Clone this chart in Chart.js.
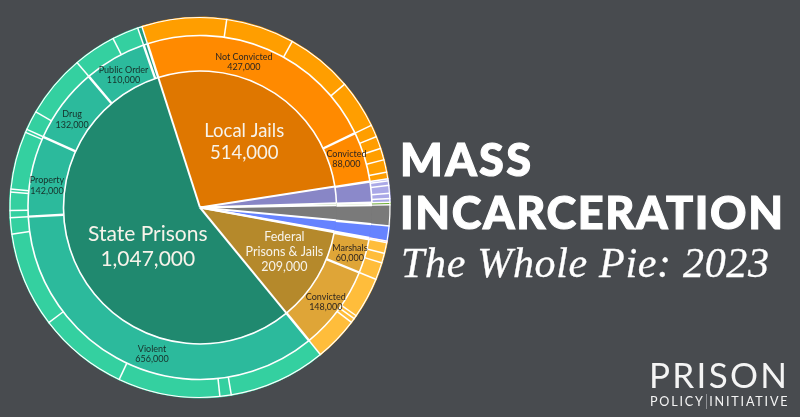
<!DOCTYPE html>
<html><head><meta charset="utf-8">
<script src="https://cdn.jsdelivr.net/npm/chart.js@4"></script>
<style>
html,body{margin:0;padding:0;background:#484b4f;width:800px;height:417px;overflow:hidden;}
#wrap{position:relative;width:800px;height:417px;}
canvas{position:absolute;left:0;top:0;}
.t{position:absolute;color:#fff;white-space:nowrap;margin:0;padding:0;}
#t1,#t2{font-family:Lato,'Open Sans',sans-serif;font-weight:900;font-size:45px;line-height:45px;-webkit-text-stroke:1.1px #fff;}
#t1{left:400px;top:136.8px;}
#t2{left:400px;top:190.1px;}
#t3{font-family:'Liberation Serif',serif;font-style:italic;font-size:42px;line-height:42px;left:401px;top:241.5px;-webkit-text-stroke:0.3px #fff;}
#l1{font-family:Lato,sans-serif;font-weight:400;font-size:35px;line-height:35px;left:649px;top:357.3px;color:#f4f4f4;}
#l2{font-family:Lato,sans-serif;font-weight:400;font-size:12.6px;line-height:12.6px;left:650px;top:396.1px;color:#f4f4f4;}
.vl{position:absolute;width:1px;background:#8e9094;}
</style></head>
<body><div id="wrap"><canvas id="c" width="800" height="417"></canvas>
<div class="t" id="t1">MASS</div>
<div class="t" id="t2">INCARCERATION</div>
<div class="t" id="t3">The Whole Pie: 2023</div>
<div class="t" id="l1">PRISON</div>
<div class="t" id="l2">POLICY INITIATIVE</div>
<div class="vl" style="left:706px;top:394px;height:15px;"></div>
</div>
<script>
// ---------- DATA ----------
// inner ring: where people are held
const facilityLabels = ['Local Jails','Youth','Military & other','Involuntary commitment','Immigration detention','Indian Country','Federal Prisons & Jails','State Prisons'];
const facilityValues = [514000, 37000, 4000, 33000, 24000, 2500, 209000, 1047000];
const facilityGroups = ['local','youth','mil','inv','imm','ind','fed','state'];

// middle ring: status / offense
const statusLabels = ['Not Convicted','Convicted','Youth','Military & other','Involuntary commitment','Immigration detention','Indian Country','Marshals','Convicted','Violent','Property','Drug','Public Order','Other'];
const statusValues = [427000, 88000, 37000, 4000, 33000, 24000, 2500, 60000, 148000, 656000, 142000, 132000, 110000, 7000];
const statusGroups = ['local','local','youth','mil','inv','imm','ind','fed','fed','state','state','state','state','other'];

// outer ring: detail
const detailLabels = [
 'Not convicted a','Not convicted b','Not convicted c','Not convicted d',
 'Convicted a','Convicted b','Convicted c','Convicted d','Convicted e',
 'Youth a','Youth b','Youth c','Youth d','Youth e',
 'Military & other','Involuntary commitment','Immigration detention','Indian Country',
 'Marshals a','Marshals b','Marshals c',
 'Federal convicted a','Federal convicted b','Federal convicted c','Federal convicted d',
 'Violent a','Violent b','Violent c','Violent d','Violent e','Violent f',
 'Property a','Property b','Property c','Property d','Property e',
 'Drug a','Drug b',
 'Public order a','Public order b',
 'Other'];
const detailValues = [
 134500,109000,106500,77000,
 19300,19800,18400,19800,10700,
 3100,7300,12500,8300,5800,
 4000,33000,24000,2500,
 17200,15500,27300,
 65000,5600,7200,70200,
 155000,18000,162000,143000,152000,26000,
 11000,29000,5000,92000,5000,
 31000,101000,
 68000,42000,
 7000];
const detailGroups = [
 'local','local','local','local',
 'local','local','local','local','local',
 'youth','youth','youth','youth','youth',
 'mil','inv','imm','ind',
 'fed','fed','fed',
 'fed','fed','fed','fed',
 'state','state','state','state','state','state',
 'state','state','state','state','state',
 'state','state',
 'state','state',
 'other'];

// ---------- STYLE ----------
const COLORS = { // [inner, middle, outer]
  local:['#df7700','#ff8a00','#ff9e00'],
  youth:['#8886c6','#8b89ca','#aaa8e7'],
  mil:['#65a928','#65a928','#65a928'],
  inv:['#7a7a7a','#7a7a7a','#7a7a7a'],
  imm:['#6683ff','#6683ff','#6683ff'],
  ind:['#ff7f8f','#ff7f8f','#ff7f8f'],
  fed:['#b5892b','#dfa537','#ffbd3b'],
  state:['#20896f','#2cba9c','#34d0a0'],
  other:['#20896f','#1f9c80','#1f9c80']
};
const MERGED = ['mil','inv','imm','ind'];
const colorsFor = (groups, ring) => groups.map(g => COLORS[g][ring]);

const ringLines = {
  id:'ringLines',
  afterDatasetsDraw(chart){
    const ctx = chart.ctx;
    ctx.save();
    ctx.strokeStyle = '#ffffff';
    chart.data.datasets.forEach((ds, di) => {
      const meta = chart.getDatasetMeta(di);
      meta.data.forEach((arc, i) => {
        const p = arc.getProps(['x','y','startAngle','endAngle','innerRadius','outerRadius'], true);
        const g = ds.groups[i];
        if (di === 0 || !MERGED.includes(g)) {
          ctx.lineWidth = di === 0 ? 1.1 : 1.6;
          ctx.beginPath();
          ctx.arc(p.x, p.y, p.outerRadius - (di === 0 ? 0.55 : 0), p.startAngle, p.endAngle);
          ctx.stroke();
        }
        ctx.lineWidth = ds.lineW;
        const ca = Math.cos(p.startAngle), sa = Math.sin(p.startAngle);
        ctx.beginPath();
        ctx.moveTo(p.x + p.innerRadius*ca, p.y + p.innerRadius*sa);
        ctx.lineTo(p.x + p.outerRadius*ca, p.y + p.outerRadius*sa);
        ctx.stroke();
      });
    });
    ctx.restore();
  }
};

// label specs: dataset, element, text, size, line height, angle shift (deg), radial position (0..1 of ring)
const fmt = v => v.toLocaleString('en-US');
const labelSpecs = [
  {ds:2, el:7, text:['State Prisons', fmt(facilityValues[7])], size:21, lh:25, dA:-8.6, f:0.48, color:'#f7f3ea'},
  {ds:2, el:0, text:['Local Jails', fmt(facilityValues[0])], size:18.5, lh:22, dA:2.3, f:0.58, color:'#f7f3ea'},
  {ds:2, el:6, text:['Federal','Prisons & Jails', fmt(facilityValues[6])], size:12.5, lh:15, dA:-2.6, f:0.70, color:'#f7f3ea'},
  {ds:1, el:0, text:['Not Convicted', fmt(statusValues[0])], size:9, lh:10.5, dA:-6.5, f:0.43, color:'#2e2620'},
  {ds:1, el:1, text:['Convicted', fmt(statusValues[1])], size:9, lh:10.5, dA:-1.2, f:0.5, color:'#2e2620'},
  {ds:1, el:7, text:['Marshals', fmt(statusValues[7])], size:9, lh:10.5, dA:0.5, f:0.57, color:'#2e2620'},
  {ds:1, el:8, text:['Convicted', fmt(statusValues[8])], size:9, lh:10.5, dA:0.5, f:0.59, color:'#2e2620'},
  {ds:1, el:9, text:['Violent', fmt(statusValues[9])], size:9, lh:10.5, dA:-5.7, f:0.5, color:'#17302a'},
  {ds:1, el:10, text:['Property', fmt(statusValues[10])], size:9, lh:10.5, dA:-2.5, f:0.51, color:'#17302a'},
  {ds:1, el:11, text:['Drug', fmt(statusValues[11])], size:9, lh:10.5, dA:-2.4, f:0.53, color:'#17302a'},
  {ds:1, el:12, text:['Public Order', fmt(statusValues[12])], size:9, lh:10.5, dA:-0.3, f:0.46, color:'#17302a'}
];
const sliceLabels = {
  id:'sliceLabels',
  afterDatasetsDraw(chart){
    const ctx = chart.ctx;
    ctx.save();
    ctx.textAlign = 'center';
    ctx.textBaseline = 'middle';
    labelSpecs.forEach(s => {
      const arc = chart.getDatasetMeta(s.ds).data[s.el];
      const p = arc.getProps(['x','y','startAngle','endAngle','innerRadius','outerRadius'], true);
      const a = (p.startAngle + p.endAngle)/2 + s.dA*Math.PI/180;
      const r = p.innerRadius + s.f*(p.outerRadius - p.innerRadius);
      const cx = p.x + r*Math.cos(a), cy = p.y + r*Math.sin(a);
      ctx.font = s.size + 'px Lato, "Open Sans", sans-serif';
      ctx.fillStyle = s.color;
      const n = s.text.length;
      s.text.forEach((t, k) => ctx.fillText(t, cx, cy + (k - (n-1)/2)*s.lh));
    });
    ctx.restore();
  }
};

new Chart(document.getElementById('c'), {
  type:'doughnut',
  data:{
    labels: detailLabels,
    datasets:[
      {label:'Detail', data:detailValues, groups:detailGroups, weight:18.5, lineW:1.5,
       backgroundColor:colorsFor(detailGroups,2), borderColor:colorsFor(detailGroups,2), borderWidth:1},
      {label:'Status', data:statusValues, groups:statusGroups, weight:35.5, lineW:2.4,
       backgroundColor:colorsFor(statusGroups,1), borderColor:colorsFor(statusGroups,1), borderWidth:1},
      {label:'Facility', data:facilityValues, groups:facilityGroups, weight:136.5, lineW:2,
       backgroundColor:colorsFor(facilityGroups,0), borderColor:colorsFor(facilityGroups,0), borderWidth:1}
    ]
  },
  options:{
    responsive:false, maintainAspectRatio:false, animation:false,
    cutout:0, rotation:-17.8,
    layout:{padding:{left:9, top:16.5, right:409, bottom:18.5}},
    plugins:{legend:{display:false}, tooltip:{enabled:false}},
    events:[]
  },
  plugins:[ringLines, sliceLabels]
});

// ---------- text fitting ----------
function fit(id, target){
  const el = document.getElementById(id);
  const cs = getComputedStyle(el);
  const c = document.createElement('canvas').getContext('2d');
  c.font = cs.fontStyle + ' ' + cs.fontWeight + ' ' + cs.fontSize + ' ' + cs.fontFamily;
  const txt = el.textContent;
  const w = c.measureText(txt).width;
  el.style.letterSpacing = ((target - w)/(txt.length - 1)) + 'px';
}
fit('t1', 131); fit('t2', 383); fit('t3', 368); fit('l1', 138); fit('l2', 138);
</script>
</body></html>
